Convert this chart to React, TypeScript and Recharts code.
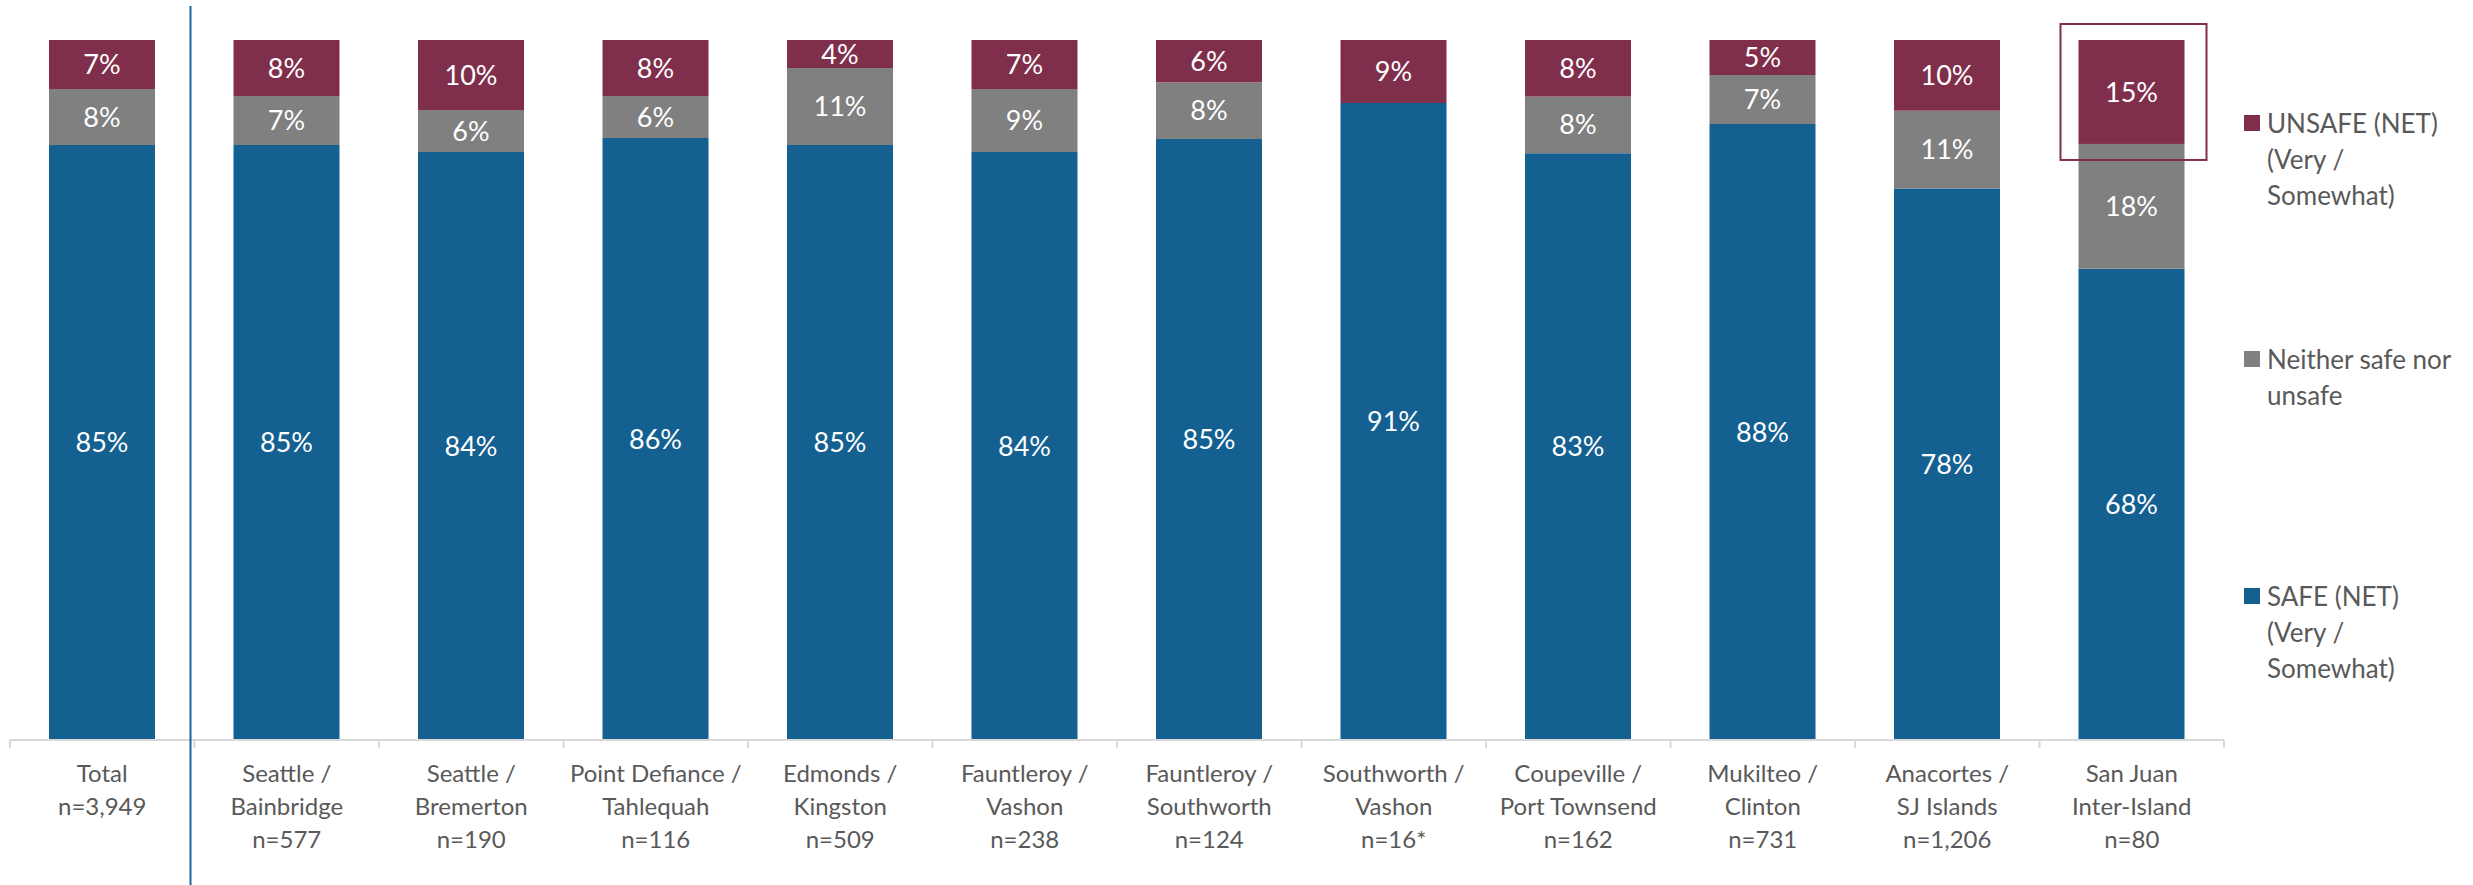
import { Bar, BarChart, LabelList, XAxis, YAxis } from "recharts";

const categories = [
  "Total",
  "Seattle / Bainbridge",
  "Seattle / Bremerton",
  "Point Defiance / Tahlequah",
  "Edmonds / Kingston",
  "Fauntleroy / Vashon",
  "Fauntleroy / Southworth",
  "Southworth / Vashon",
  "Coupeville / Port Townsend",
  "Mukilteo / Clinton",
  "Anacortes / SJ Islands",
  "San Juan Inter-Island",
];

const routeLines = [
  ["Total"],
  ["Seattle /", "Bainbridge"],
  ["Seattle /", "Bremerton"],
  ["Point Defiance /", "Tahlequah"],
  ["Edmonds /", "Kingston"],
  ["Fauntleroy /", "Vashon"],
  ["Fauntleroy /", "Southworth"],
  ["Southworth /", "Vashon"],
  ["Coupeville /", "Port Townsend"],
  ["Mukilteo /", "Clinton"],
  ["Anacortes /", "SJ Islands"],
  ["San Juan", "Inter-Island"],
];

const sampleSizes = ["n=3,949", "n=577", "n=190", "n=116", "n=509", "n=238", "n=124", "n=16*", "n=162", "n=731", "n=1,206", "n=80"];

const safe = [85, 85, 84, 86, 85, 84, 85, 91, 83, 88, 78, 68];
const neither = [8, 7, 6, 6, 11, 9, 8, null, 8, 7, 11, 18];
const unsafe = [7, 8, 10, 8, 4, 7, 6, 9, 8, 5, 10, 15];

const highlighted = "San Juan Inter-Island";

const series = [
  { key: "safe", color: "#146091", legend: ["SAFE (NET)", "(Very /", "Somewhat)"], legendTop: 596 },
  { key: "neither", color: "#808080", legend: ["Neither safe nor", "unsafe"], legendTop: 359 },
  { key: "unsafe", color: "#7f2f4b", legend: ["UNSAFE (NET)", "(Very /", "Somewhat)"], legendTop: 123 },
];

const data = categories.map((category, i) => ({
  category,
  safe: safe[i],
  neither: neither[i],
  unsafe: unsafe[i],
}));

const W = 2473;
const H = 885;
const margin = { top: 40, left: 10, right: 249, bottom: 0 };
const AXIS_H = 145;
const PITCH = (W - margin.left - margin.right) / categories.length;
const FONT = "Lato, 'Open Sans', sans-serif";
const TEXT = "#595959";
const AXIS = "#d9d9d9";

const pct = (v: any) => (v == null || v === 0 ? "" : `${v}%`);

function RouteTick(props: any) {
  const { x, y, payload } = props;
  const i = payload.index ?? categories.indexOf(payload.value);
  const lines = [...routeLines[i], sampleSizes[i]];
  const half = PITCH / 2;
  return (
    <g>
      <line x1={x - half} x2={x - half} y1={y} y2={y + 8} stroke={AXIS} strokeWidth={2} />
      {i === categories.length - 1 && (
        <line x1={x + half} x2={x + half} y1={y} y2={y + 8} stroke={AXIS} strokeWidth={2} />
      )}
      {i === 1 && (
        <line x1={x - half - 4} x2={x - half - 4} y1={margin.top - 34} y2={H} stroke="#1a6496" strokeWidth={2} />
      )}
      <text textAnchor="middle" fill={TEXT} fontSize={24} fontFamily={FONT}>
        {lines.map((line, k) => (
          <tspan key={k} x={x} y={y + 34 + k * 33 + 8}>
            {line}
          </tspan>
        ))}
      </text>
    </g>
  );
}

function UnsafeShape(props: any) {
  const { x, y, width, height, fill } = props;
  const cat = props.payload?.category ?? props.category;
  return (
    <g>
      <rect x={x} y={y} width={width} height={height} fill={fill} />
      {cat === highlighted && (
        <rect x={x - 18} y={y - 16} width={width + 40} height={height + 32} fill="none" stroke="#7f2f4b" strokeWidth={2} />
      )}
    </g>
  );
}

function SideLegend() {
  return (
    <>
      {series.map((s) => (
        <div
          key={s.key}
          style={{ position: "absolute", left: 2244, top: s.legendTop - 18, display: "flex", alignItems: "flex-start" }}
        >
          <div style={{ width: 16, height: 16, background: s.color, marginTop: 10, marginRight: 7 }} />
          <div style={{ fontFamily: FONT, fontSize: 26, lineHeight: "36px", color: TEXT, whiteSpace: "nowrap" }}>
            {s.legend.map((l, k) => (
              <div key={k}>{l}</div>
            ))}
          </div>
        </div>
      ))}
    </>
  );
}

export default function App() {
  return (
    <div style={{ position: "absolute", left: 0, top: 0, width: W, height: H, background: "#fff", fontFamily: FONT }}>
      <BarChart width={W} height={H} data={data} margin={margin} stackOffset="expand" barSize={106}>
        <XAxis
          dataKey="category"
          height={AXIS_H}
          interval={0}
          tick={<RouteTick />}
          tickLine={false}
          tickSize={0}
          tickMargin={0}
          axisLine={{ stroke: AXIS, strokeWidth: 2 }}
        />
        <YAxis hide domain={[0, 1]} />
        <Bar dataKey="safe" stackId="a" fill="#146091" isAnimationActive={false}>
          <LabelList dataKey="safe" position="center" fill="#fff" fontSize={27} fontFamily={FONT} formatter={pct} />
        </Bar>
        <Bar dataKey="neither" stackId="a" fill="#808080" isAnimationActive={false}>
          <LabelList dataKey="neither" position="center" fill="#fff" fontSize={27} fontFamily={FONT} formatter={pct} />
        </Bar>
        <Bar dataKey="unsafe" stackId="a" fill="#7f2f4b" shape={<UnsafeShape />} isAnimationActive={false}>
          <LabelList dataKey="unsafe" position="center" fill="#fff" fontSize={27} fontFamily={FONT} formatter={pct} />
        </Bar>
      </BarChart>
      <SideLegend />
    </div>
  );
}
